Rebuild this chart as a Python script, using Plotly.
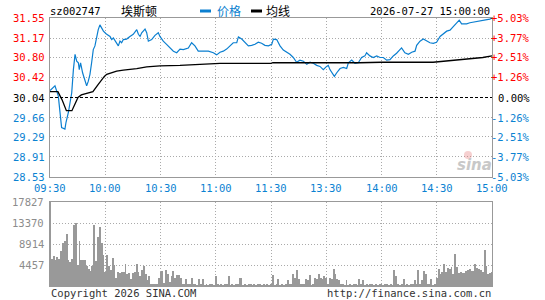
import plotly.graph_objects as go

# ---------------- data ----------------
stock_code = "sz002747"
stock_name = "埃斯顿"
timestamp = "2026-07-27 15:00:00"
prev_close = 30.04

tick_minutes = [0, 30, 60, 90, 120, 150, 180, 210, 240]
tick_labels = ["09:30", "10:00", "10:30", "11:00", "11:30", "13:30", "14:00", "14:30", "15:00"]

price_ticks = [31.55, 31.17, 30.80, 30.42, 30.04, 29.66, 29.29, 28.91, 28.53]
price_tick_text = ["31.55", "31.17", "30.80", "30.42", "30.04", "29.66", "29.29", "28.91", "28.53"]
pct_tick_text = ["+5.03%", "+3.77%", "+2.51%", "+1.26%", "0.00%", "-1.26%", "-2.51%", "-3.77%", "-5.03%"]

vol_ticks = [17827, 13370, 8914, 4457]
vol_tick_text = ["17827", "13370", "8914", "4457"]

price_min = [0, 2.7, 4.5, 5.4, 6.3, 8.1, 8.7, 10.0, 10.9, 11.8, 12.7, 13.6, 14.5, 15.4, 15.9, 16.6,
             17.7, 19.0, 19.9, 20.8, 21.7, 22.6, 23.5, 24.4, 25.3, 26.2, 27.1, 28.0, 29.0, 29.9,
             30.8, 32.6, 33.5, 34.4, 35.3, 36.2, 37.1, 38.0, 38.9, 39.8, 41.6, 43.4, 45.2, 47.1,
             48.0, 48.9, 49.8, 51.6, 52.5, 53.4, 55.2, 57.0, 58.8, 59.7, 61.5, 63.3, 65.2, 67.0,
             68.8, 70.6, 72.4, 75.1, 76.9, 78.7, 80.5, 83.3, 86.0, 88.7, 90.5, 92.3, 94.1, 95.9,
             97.7, 99.5, 101.4, 102.3, 104.1, 105.9, 107.7, 109.5, 111.3, 113.1, 114.9, 116.7,
             118.6, 120.4, 121.3, 123.1, 124.9, 126.7, 128.5, 130.3, 132.1, 133.9, 135.7, 137.6,
             139.4, 141.2, 143.0, 144.8, 146.6, 148.4, 150.2, 151.1, 152.0, 152.9, 154.4, 155.7,
             157.5, 159.3, 161.1, 162.0, 163.8, 165.6, 167.4, 169.2, 171.0, 171.9, 173.7, 175.5,
             177.4, 179.2, 181.0, 182.8, 184.6, 186.4, 188.2, 190.0, 190.9, 192.7, 194.6, 196.4,
             198.2, 199.1, 200.9, 202.7, 204.5, 206.3, 208.1, 209.9, 211.8, 213.6, 215.4, 217.2,
             219.0, 220.8, 222.2, 223.5, 226.2, 228.0, 229.8, 231.6, 233.4, 235.2, 237.0, 238.8, 240]
price_val = [30.17, 30.26, 30.07, 29.69, 29.47, 29.44, 29.57, 29.76, 29.95, 30.13, 30.57, 30.86,
             30.73, 30.70, 30.57, 30.70, 30.51, 30.35, 30.26, 30.35, 30.48, 30.70, 30.95, 31.02,
             31.20, 31.33, 31.42, 31.36, 31.30, 31.27, 31.24, 31.20, 31.14, 31.17, 31.11, 31.08,
             31.02, 31.11, 31.08, 31.14, 31.15, 31.20, 31.24, 31.33, 31.24, 31.20, 31.27, 31.34,
             31.27, 31.11, 31.14, 31.22, 31.27, 31.20, 31.11, 31.05, 30.98, 30.92, 30.89, 30.96,
             30.95, 30.98, 31.08, 31.02, 30.92, 30.92, 30.92, 30.89, 30.85, 30.90, 30.92, 30.96,
             31.02, 31.08, 31.08, 31.19, 31.15, 31.08, 31.02, 31.03, 31.05, 31.09, 31.07, 31.03,
             31.02, 31.05, 31.15, 31.14, 31.02, 30.94, 30.90, 30.86, 30.80, 30.71, 30.75, 30.73,
             30.67, 30.71, 30.69, 30.65, 30.63, 30.57, 30.63, 30.65, 30.57, 30.51, 30.44, 30.51,
             30.59, 30.61, 30.59, 30.70, 30.75, 30.69, 30.70, 30.80, 30.83, 30.89, 30.83, 30.80,
             30.83, 30.80, 30.80, 30.75, 30.76, 30.83, 30.88, 30.95, 30.98, 30.89, 30.86, 30.90,
             30.92, 31.03, 31.11, 31.15, 31.11, 31.08, 31.07, 31.09, 31.20, 31.25, 31.30, 31.32,
             31.39, 31.46, 31.51, 31.44, 31.44, 31.46, 31.47, 31.49, 31.50, 31.51, 31.52, 31.53, 31.55]

avg_min = [0, 4.3, 6.5, 8.9, 11.9, 13.5, 15.2, 17.0, 20.6, 23.3, 26.0, 27.9, 29.5, 30.8, 33.5,
           36.2, 39.8, 43.4, 47.1, 52.5, 59.7, 70.6, 81.5, 92.3, 120, 121, 168, 180, 208, 215,
           222, 229.8, 235, 240]
avg_val = [30.15, 30.15, 30.00, 29.79, 29.79, 29.92, 30.04, 30.09, 30.13, 30.15, 30.28, 30.37,
           30.44, 30.48, 30.51, 30.54, 30.56, 30.57, 30.59, 30.62, 30.64, 30.65, 30.67, 30.69,
           30.69, 30.70, 30.70, 30.71, 30.71, 30.73, 30.75, 30.78, 30.80, 30.83]

volume = [
    17827, 5670, 6300, 5450, 6160, 5800, 7360, 9130, 9490, 11110,
    5590, 5100, 5670, 12880, 13450, 4500, 9490, 5450, 5590, 5450,
    4180, 3680, 3120, 4180, 12880, 5240, 10410, 12530, 9200, 6510,
    3000, 6510, 4180, 3330, 6020, 4390, 1800, 2980, 2830, 2900,
    2980, 4600, 2480, 2760, 1500, 2760, 2980, 4740, 2980, 2060,
    3330, 4180, 2480, 1200, 2060, 400, 250, 350, 500, 1770,
    2980, 3190, 600, 3330, 2480, 900, 2060, 3190, 1770, 2270,
    2270, 1770, 350, 500, 1560, 300, 400, 1630, 250, 350,
    200, 1490, 300, 1490, 200, 350, 150, 250, 400, 200,
    2060, 300, 200, 350, 150, 250, 400, 2060, 200, 300,
    150, 350, 250, 1770, 1630, 200, 300, 150, 250, 350,
    200, 400, 150, 250, 300, 200, 350, 150, 250, 200,
    300, 2270, 200, 250, 1490, 150, 300, 200, 350, 1350,
    250, 400, 2620, 1770, 3330, 1560, 250, 400, 300, 1560,
    1350, 2270, 200, 350, 1770, 1560, 2480, 1770, 1560, 2060,
    1770, 400, 1770, 1560, 3540, 2480, 1560, 1350, 250, 350,
    200, 1350, 200, 300, 150, 250, 350, 200, 1560, 250,
    1350, 200, 300, 150, 250, 350, 200, 300, 150, 250,
    350, 200, 300, 400, 150, 250, 200, 3330, 2060, 250,
    200, 350, 1560, 200, 300, 150, 250, 400, 1350, 250,
    3330, 300, 1350, 3120, 2480, 250, 400, 1560, 200, 350,
    1770, 3540, 2480, 2980, 4600, 2980, 3820, 3680, 4040, 2620,
    6730, 4040, 2760, 2980, 2760, 2760, 3120, 3330, 3540, 3120,
    3120, 4600, 3820, 3680, 3470, 3000, 7580, 4180, 2500, 2800,
    3000,
]
vol_minutes = list(range(len(volume)))

# ---------------- styling ----------------
W, H = 545, 300
L, R, T, B = 50, 53, 18, 14
PW, PH = W - L - R, H - T - B
FONT = "DejaVu Sans Mono"
CJK = "Noto Sans CJK SC"
RED = "#ff0000"
BLUE = "#0a82d2"
LINE_BLUE = "#0b7fd0"
GRAY = "#999999"
GRID = "#aaaaaa"


def px(xp):
    return (xp - L) / PW


def py(yp):
    return (H - B - yp) / PH


price_dom = [py(177), 1.0]
vol_dom = [0.0, py(202)]

fig = go.Figure()
fig.add_trace(go.Scatter(x=price_min, y=price_val, mode="lines",
                         line=dict(color=LINE_BLUE, width=1.2), xaxis="x", yaxis="y",
                         showlegend=False, hoverinfo="skip"))
fig.add_trace(go.Scatter(x=avg_min, y=avg_val, mode="lines",
                         line=dict(color="#000000", width=1.3), xaxis="x", yaxis="y",
                         showlegend=False, hoverinfo="skip"))
fig.add_trace(go.Bar(x=vol_minutes, y=volume, marker=dict(color=GRAY, line=dict(width=0)),
                     width=0.5, xaxis="x2", yaxis="y2", showlegend=False, hoverinfo="skip"))

grid_price = [p for p in price_ticks if p != prev_close]
axis_common = dict(showline=True, linecolor=GRAY, linewidth=1, mirror=True,
                   showgrid=True, gridcolor=GRID, gridwidth=1, griddash="1px,2px",
                   zeroline=False, showticklabels=False, ticks="", fixedrange=True)

fig.update_layout(
    width=W, height=H,
    margin=dict(l=L, r=R, t=T, b=B, pad=0),
    paper_bgcolor="white", plot_bgcolor="white",
    bargap=0,
    xaxis=dict(domain=[0, 1], range=[0, 240], tickvals=tick_minutes, anchor="y", **axis_common),
    yaxis=dict(domain=price_dom, range=[price_ticks[-1], price_ticks[0]], tickvals=grid_price,
               anchor="x", **axis_common),
    xaxis2=dict(domain=[0, 1], range=[0, 240], tickvals=tick_minutes, anchor="y2", **axis_common),
    yaxis2=dict(domain=vol_dom, range=[0, vol_ticks[0]], tickvals=vol_ticks[1:],
                anchor="x2", **axis_common),
)

shapes = []
shapes.append(dict(type="line", xref="x", yref="y", x0=0, x1=240, y0=prev_close, y1=prev_close,
                   line=dict(color="#000000", width=1, dash="3px,2px")))
shapes.append(dict(type="rect", xref="paper", yref="paper", x0=px(200), x1=px(211),
                   y0=py(12.5), y1=py(9.5), fillcolor=LINE_BLUE, line=dict(width=0)))
shapes.append(dict(type="rect", xref="paper", yref="paper", x0=px(251), x1=px(262),
                   y0=py(12.5), y1=py(9.5), fillcolor="#000000", line=dict(width=0)))
shapes.append(dict(type="circle", xref="paper", yref="paper", x0=px(464), x1=px(472),
                   y0=py(159), y1=py(151), fillcolor="rgba(230,120,120,0.35)", line=dict(width=0)))
fig.update_layout(shapes=shapes)

ann = []
FS = 10.5


def add_text(text, xp, yp, color="#000000", anchor="left", size=FS, family=FONT, **kw):
    ann.append(dict(text=text, xref="paper", yref="paper", x=px(xp), y=py(yp),
                    xanchor=anchor, yanchor="middle", showarrow=False,
                    font=dict(family=family, size=size, color=color), **kw))


add_text(stock_code, 48, 11)
add_text(stock_name, 119, 11, family=CJK, size=12)
add_text("价格", 215, 11, color=LINE_BLUE, family=CJK, size=12)
add_text("均线", 264, 11, family=CJK, size=12)
add_text(timestamp, 492, 11, anchor="right")

for p, t, pc in zip(price_ticks, price_tick_text, pct_tick_text):
    col = RED if p > prev_close else ("#000000" if p == prev_close else BLUE)
    ann.append(dict(text=t, xref="paper", yref="y", x=px(47), y=p, xanchor="right",
                    yanchor="middle", showarrow=False, font=dict(family=FONT, size=FS, color=col)))
    ann.append(dict(text=pc, xref="paper", yref="y", x=px(532), y=p, xanchor="right",
                    yanchor="middle", showarrow=False, font=dict(family=FONT, size=FS, color=col)))

for m, t in zip(tick_minutes, tick_labels):
    ann.append(dict(text=t, xref="x", yref="paper", x=m, y=py(188), xanchor="center",
                    yanchor="middle", showarrow=False, font=dict(family=FONT, size=FS, color=BLUE)))

for v, t in zip(vol_ticks, vol_tick_text):
    ann.append(dict(text=t, xref="paper", yref="y2", x=px(46), y=v, xanchor="right",
                    yanchor="middle", showarrow=False, font=dict(family=FONT, size=FS, color="#8c8c8c")))

add_text("Copyright 2026 SINA.COM", 49, 293, color="#333333")
add_text("http://finance.sina.com.cn", 493, 293, color="#333333", anchor="right")

add_text("<b><i>sina</i></b>", 474, 165, color="#c8c8c8", anchor="center", size=15, family="DejaVu Sans")

fig.update_layout(annotations=ann)

fig.write_html("out.html")
